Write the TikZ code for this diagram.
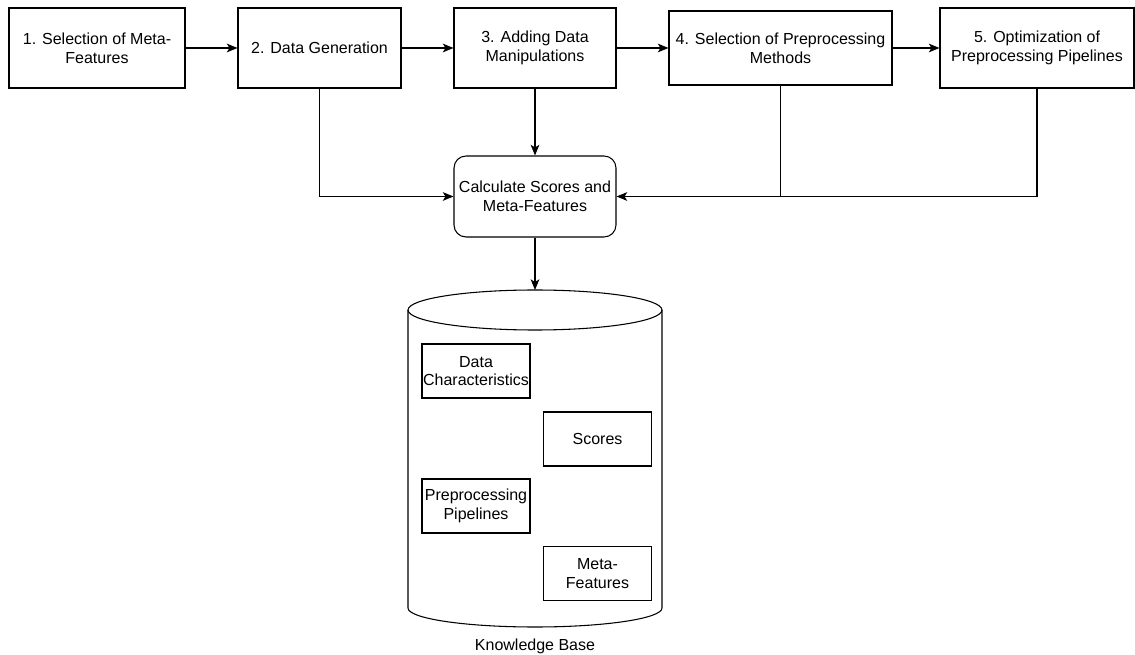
\documentclass[tikz,border=0pt]{standalone}
\usepackage{fontspec}
\setmainfont{Liberation Sans}
\usetikzlibrary{arrows.meta}
\begin{document}
\begin{tikzpicture}[x=0.75pt,y=-0.75pt,
  every node/.style={font=\fontsize{12}{14}\selectfont},
  stepbox/.style={draw, line width=0.8pt, rectangle, align=center, inner sep=0pt},
  calcbox/.style={draw, line width=0.8pt, rectangle, rounded corners=9pt, align=center, inner sep=0pt},
  innerbox/.style={draw, line width=0.8pt, rectangle, align=center, inner sep=0pt, minimum width=81pt, minimum height=40.5pt},
  arr/.style={draw, line width=0.8pt, -{Stealth[length=8pt,width=6.5pt,inset=2pt]}},
  conn/.style={draw, line width=0.8pt}]
\useasboundingbox (0,0) rectangle (1135,655);
\node[stepbox, minimum width=132pt, minimum height=60pt] (b1) at (97,48) {1. Selection of Meta-\\Features};
\node[stepbox, minimum width=122.25pt, minimum height=60pt] (b2) at (319.5,48) {2. Data Generation};
\node[stepbox, minimum width=121.5pt, minimum height=60pt] (b3) at (535,48) {3. Adding Data\\Manipulations};
\node[stepbox, minimum width=167.25pt, minimum height=55.5pt] (b4) at (780.5,48) {4. Selection of Preprocessing\\Methods};
\node[stepbox, minimum width=145.5pt, minimum height=60pt] (b5) at (1037,48) {5. Optimization of\\Preprocessing Pipelines};
\node[calcbox, minimum width=121.5pt, minimum height=60.75pt] (calc) at (535,196.5) {Calculate Scores and\\Meta-Features};
% knowledge base cylinder
\draw[line width=0.8pt] (408,310) -- (408,608) arc[start angle=180, end angle=0, x radius=127, y radius=19] -- (662,310);
\draw[line width=0.8pt] (535,310) ellipse[x radius=127, y radius=20];
\coordinate (kbtop) at (535,290);
\node[innerbox] (dc) at (476,371) {Data\\Characteristics};
\node[innerbox] (sc) at (597.5,439) {Scores};
\node[innerbox] (pp) at (476,506) {Preprocessing\\Pipelines};
\node[innerbox] (mf) at (597.5,573.5) {Meta-\\Features};
\node (kb) at (535,646) {Knowledge Base};
% connectors
\draw[arr] (b1.east) -- (b2.west);
\draw[arr] (b2.east) -- (b3.west);
\draw[arr] (b3.east) -- (b4.west);
\draw[arr] (b4.east) -- (b5.west);
\draw[arr] (b2.south) |- (calc.west);
\draw[arr] (b3.south) -- (calc.north);
\draw[conn] (b4.south) |- (calc.east);
\draw[arr] (b5.south) |- (calc.east);
\draw[arr] (calc.south) -- (kbtop);
\end{tikzpicture}
\end{document}
